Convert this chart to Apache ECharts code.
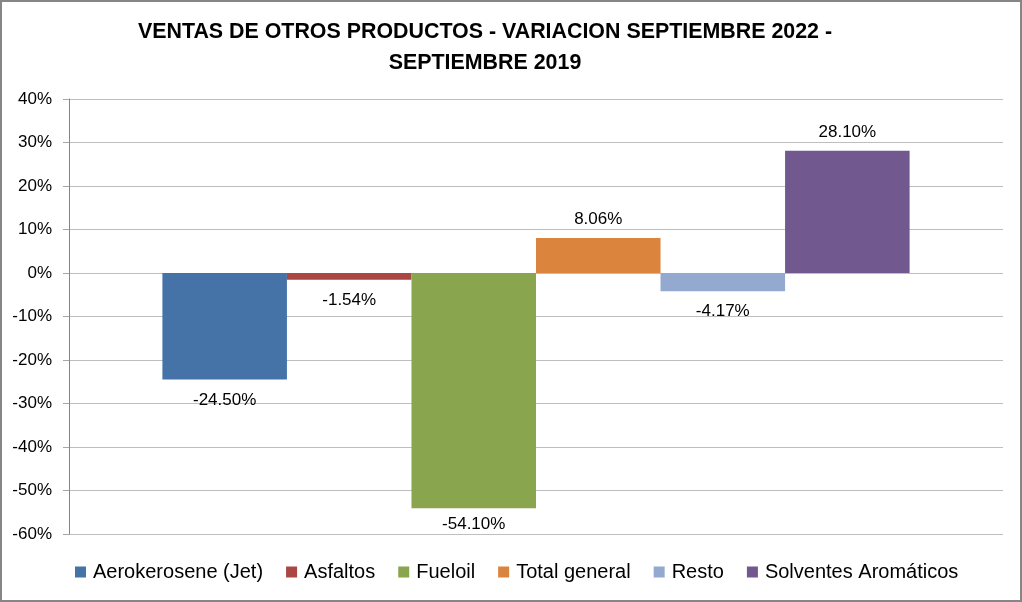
<!DOCTYPE html>
<html>
<head>
<meta charset="utf-8">
<script src="https://cdn.jsdelivr.net/npm/echarts@6/dist/echarts.min.js"></script>
<style>
  html, body { margin: 0; padding: 0; background: #fff; }
  #chart { width: 1022px; height: 602px; }
</style>
</head>
<body>
<div id="chart"></div>
<script>
const chart = echarts.init(document.getElementById('chart'));

const titleLines = ['VENTAS DE OTROS PRODUCTOS - VARIACION SEPTIEMBRE 2022 -', 'SEPTIEMBRE 2019'];
const productos = ['Aerokerosene (Jet)', 'Asfaltos', 'Fueloil', 'Total general', 'Resto', 'Solventes Aromáticos'];
const variacion = [-24.50, -1.54, -54.10, 8.06, -4.17, 28.10];
const colores = ['#4572A7', '#AA4643', '#89A54E', '#DB843D', '#93A9CF', '#71588F'];

const FONT = "'Liberation Sans', sans-serif";

// Excel pulls the deepest label a bit closer so it stays inside the plot
function labelDistance(v) {
  if (v >= 0) return 10;
  return v < -50 ? 7 : 12;
}

const series = productos.map((name, i) => ({
  name,
  type: 'bar',
  data: [variacion[i]],
  barGap: '0%',
  barCategoryGap: '20%',
  itemStyle: { color: colores[i] },
  label: {
    show: true,
    position: variacion[i] < 0 ? 'bottom' : 'top',
    distance: labelDistance(variacion[i]),
    color: '#000',
    fontFamily: FONT,
    fontSize: 17,
    formatter: (p) => p.value.toFixed(2) + '%'
  }
}));

chart.setOption({
  backgroundColor: '#fff',
  animation: false,
  title: {
    text: titleLines.join('\n'),
    left: 480,
    top: 12,
    textAlign: 'center',
    textStyle: {
      fontFamily: FONT,
      fontWeight: 'bold',
      fontSize: 21.4,
      lineHeight: 31,
      color: '#000'
    }
  },
  graphic: [{
    type: 'rect',
    shape: { x: 1, y: 1, width: 1020, height: 600 },
    style: { fill: 'none', stroke: '#868686', lineWidth: 2 },
    silent: true
  }],
  legend: {
    bottom: 15,
    left: 70,
    itemWidth: 11,
    itemHeight: 11,
    itemGap: 23,
    icon: 'rect',
    textStyle: { fontFamily: FONT, fontSize: 20, color: '#000', padding: [0, 0, 0, 2] },
    data: productos
  },
  grid: { left: 69, right: 19, top: 99, bottom: 68 },
  xAxis: {
    type: 'category',
    data: [''],
    axisLine: { show: false },
    axisTick: { show: false },
    axisLabel: { show: false }
  },
  yAxis: {
    type: 'value',
    min: -60,
    max: 40,
    interval: 10,
    axisLine: { show: true, lineStyle: { color: '#868686' } },
    axisTick: { show: true, length: 6, inside: false, lineStyle: { color: '#A6A6A6' } },
    axisLabel: {
      formatter: '{value}%',
      fontFamily: FONT,
      fontSize: 17,
      color: '#000',
      margin: 17
    },
    splitLine: { show: true, lineStyle: { color: '#BEBEBE', width: 1 } }
  },
  series
});
</script>
</body>
</html>
